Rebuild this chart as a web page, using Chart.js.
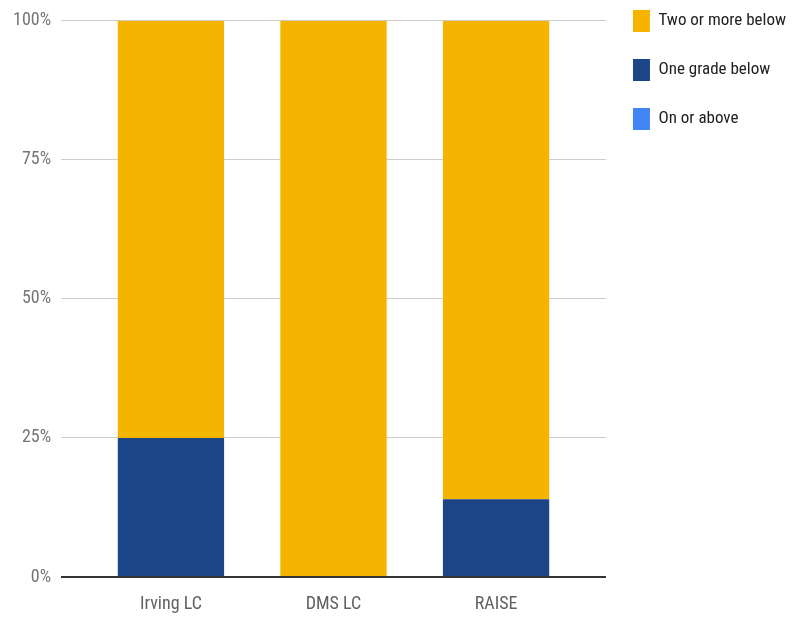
<!DOCTYPE html>
<html>
<head>
<meta charset="utf-8">
<script src="https://cdn.jsdelivr.net/npm/chart.js@4"></script>
<style>
  html, body { margin: 0; padding: 0; background: #fff; }
  #wrap { width: 796px; height: 621px; }
</style>
</head>
<body>
<div id="wrap"><canvas id="chart"></canvas></div>
<script>
// ===== DATA =====
const schools = ['Irving LC', 'DMS LC', 'RAISE'];
const onOrAbove = [0, 0, 0];
const oneGradeBelow = [25, 0, 14];
const twoOrMoreBelow = [75, 100, 86];
const yTicks = [0, 25, 50, 75, 100];

const FONT = "'Roboto Condensed', 'Liberation Sans Narrow', 'DejaVu Sans Condensed', Roboto, sans-serif";

// bars sit on a linear x axis at 1..n so the gridlines run wider than the bars
const toPoints = arr => arr.map((v, i) => ({ x: i + 1, y: v }));

// pull the legend up to the top of the canvas
const legendUp = {
  id: 'legendUp',
  afterLayout(chart) {
    chart.legend.top -= 29;
    chart.legend.bottom -= 29;
  }
};

const chart = new Chart(document.getElementById('chart'), {
  type: 'bar',
  data: {
    datasets: [
      { label: 'On or above', data: toPoints(onOrAbove), backgroundColor: '#4285f4' },
      { label: 'One grade below', data: toPoints(oneGradeBelow), backgroundColor: '#1c4587' },
      { label: 'Two or more below', data: toPoints(twoOrMoreBelow), backgroundColor: '#f4b400' }
    ]
  },
  options: {
    responsive: true,
    maintainAspectRatio: false,
    animation: false,
    layout: { padding: { top: 12, left: 3, bottom: 0, right: 0 } },
    datasets: { bar: { categoryPercentage: 1, barPercentage: 0.654 } },
    scales: {
      x: {
        type: 'linear',
        stacked: true,
        min: 0.324,
        max: 3.676,
        offset: false,
        afterBuildTicks: axis => { axis.ticks = schools.map((s, i) => ({ value: i + 1 })); },
        afterFit: axis => { axis.height = 44; },
        ticks: {
          autoSkip: false,
          maxRotation: 0,
          padding: 17,
          color: '#616161',
          font: { family: FONT, size: 18 },
          callback: v => schools[v - 1]
        },
        grid: { display: false, drawTicks: false },
        border: { display: false }
      },
      y: {
        stacked: true,
        min: 0,
        max: 100,
        afterBuildTicks: axis => { axis.ticks = yTicks.map(v => ({ value: v })); },
        ticks: {
          padding: 10,
          color: '#757575',
          font: { family: FONT, size: 18 },
          callback: v => v + '%'
        },
        grid: {
          drawTicks: false,
          color: ctx => ctx.tick && ctx.tick.value === 0 ? '#333333' : '#cccccc',
          lineWidth: ctx => ctx.tick && ctx.tick.value === 0 ? 2 : 1
        },
        border: { display: false }
      }
    },
    plugins: {
      tooltip: { enabled: false },
      legend: {
        position: 'right',
        align: 'start',
        reverse: true,
        labels: {
          boxWidth: 17,
          boxHeight: 22,
          padding: 27,
          color: '#222222',
          font: { family: FONT, size: 17 }
        }
      }
    }
  },
  plugins: [legendUp]
});
</script>
</body>
</html>
